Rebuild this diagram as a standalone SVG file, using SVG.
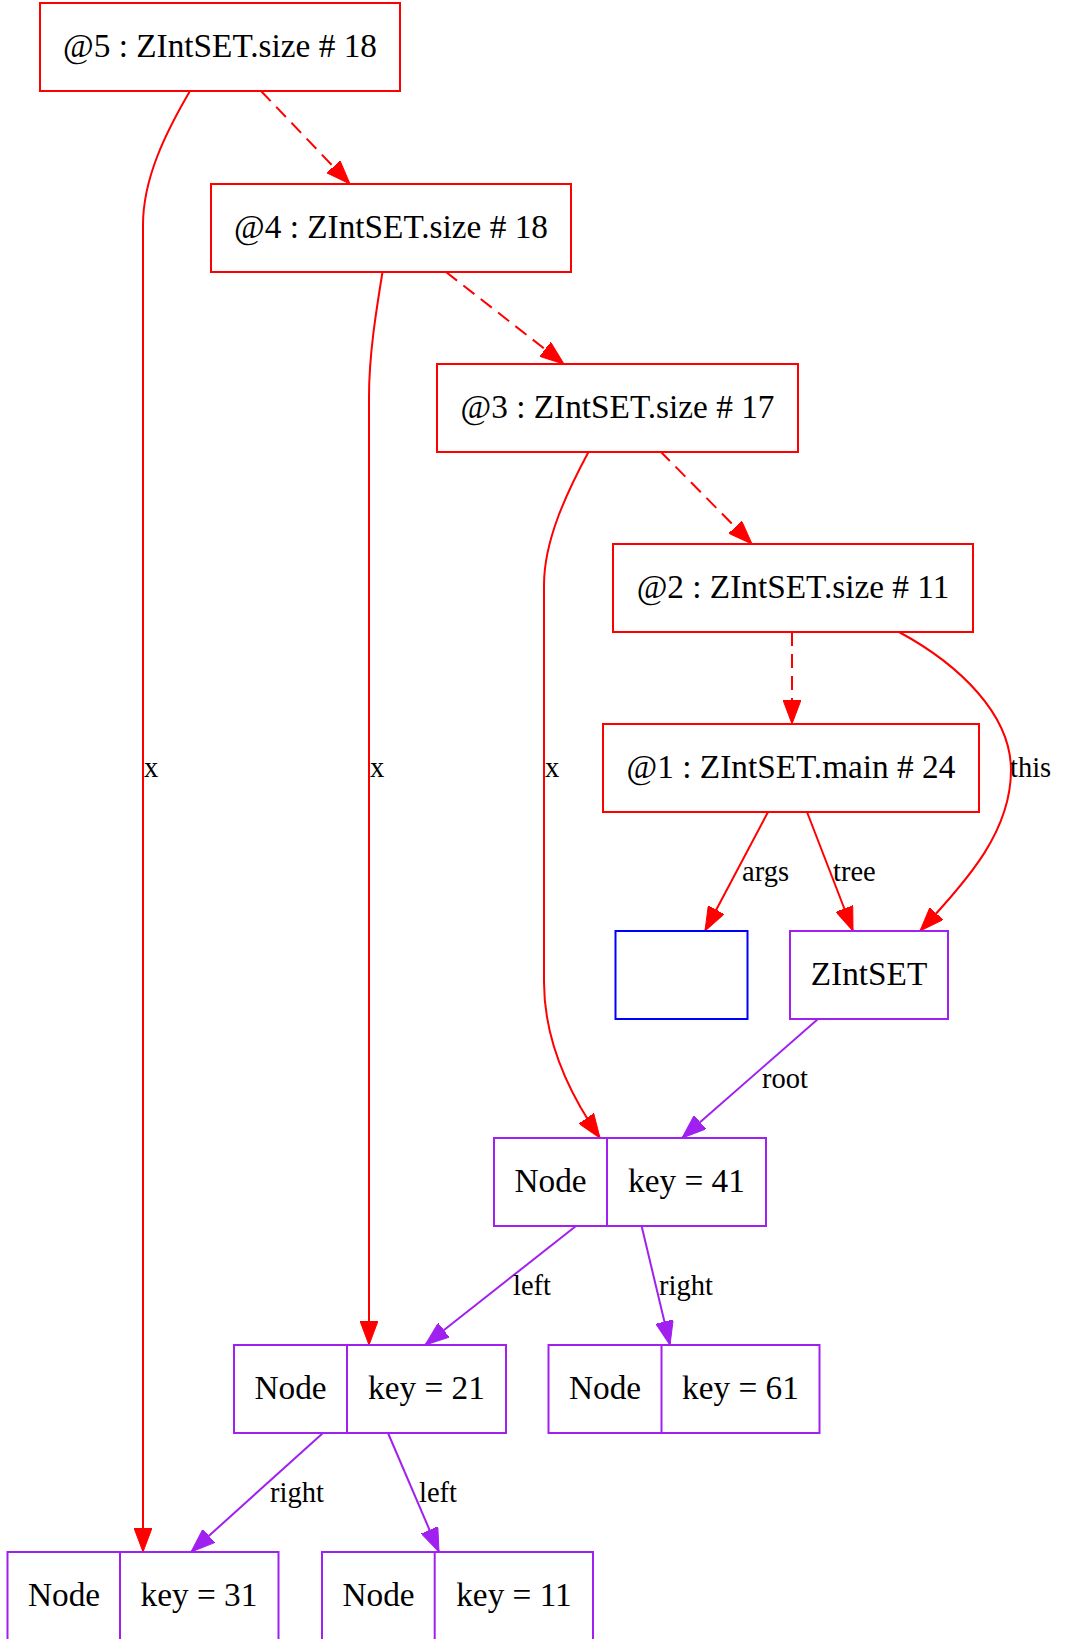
<svg xmlns="http://www.w3.org/2000/svg" width="1068" height="1639" viewBox="0 0 1068 1639">
<style>
.bg{fill:#ffffff}
.fr{fill:#ffffff;stroke:#ff0000;stroke-width:2}
.fp{fill:#ffffff;stroke:#a020f0;stroke-width:2}
.fb{fill:#ffffff;stroke:#0000ff;stroke-width:2}
.lp{stroke:#a020f0;stroke-width:2;fill:none}
.t{font-family:"Liberation Serif","Times New Roman",serif;font-size:33.3px;fill:#000;text-anchor:middle}
.l{font-family:"Liberation Serif","Times New Roman",serif;font-size:28.5px;fill:#000}
.er{stroke:#ff0000;stroke-width:2;fill:none;marker-end:url(#ar)}
.ed{stroke:#ff0000;stroke-width:2;fill:none;stroke-dasharray:14,8;marker-end:url(#ar)}
.ep{stroke:#a020f0;stroke-width:2;fill:none;marker-end:url(#ap)}
</style>
<defs>
<marker id="ar" viewBox="0 0 24 18" refX="24" refY="9" markerWidth="24" markerHeight="18" markerUnits="userSpaceOnUse" orient="auto">
<path d="M0,0 L24,9 L0,18 Z" fill="#ff0000" stroke="#ff0000" stroke-width="1"/>
</marker>
<marker id="ap" viewBox="0 0 24 18" refX="24" refY="9" markerWidth="24" markerHeight="18" markerUnits="userSpaceOnUse" orient="auto">
<path d="M0,0 L24,9 L0,18 Z" fill="#a020f0" stroke="#a020f0" stroke-width="1"/>
</marker>
</defs>
<rect class="bg" x="0" y="0" width="1068" height="1639"/>
<g id="edges">
<path class="er" d="M190,91 C166,132 143,178 143,225 L143,1552"/>
<path class="ed" d="M261,91 L350,184"/>
<path class="er" d="M382.5,272 C376,312 369,355 369,397 L369,1345"/>
<path class="ed" d="M446,272 L564,364"/>
<path class="er" d="M589,451 C567,492 544,540 544,585 L544,982 C544,1040 570,1095 600,1138"/>
<path class="ed" d="M660,451 L752,544"/>
<path class="ed" d="M792,632 L792,724"/>
<path class="er" d="M899,632 C960,665 1011,715 1011,770 C1011,830 970,878 920,931"/>
<path class="er" d="M768,812 L705,931"/>
<path class="er" d="M807,812 L853,931"/>
<path class="ep" d="M818,1019 L682,1138"/>
<path class="ep" d="M576,1226 L425,1345"/>
<path class="ep" d="M641.6,1226 L670,1345"/>
<path class="ep" d="M323,1433 L191,1552"/>
<path class="ep" d="M388,1433 L439,1552"/>
<text class="l" x="144" y="777">x</text>
<text class="l" x="370" y="777">x</text>
<text class="l" x="545" y="777">x</text>
<text class="l" x="1010" y="777">this</text>
<text class="l" x="742" y="881">args</text>
<text class="l" x="833" y="881">tree</text>
<text class="l" x="762" y="1088">root</text>
<text class="l" x="513" y="1295">left</text>
<text class="l" x="659" y="1295">right</text>
<text class="l" x="270" y="1502">right</text>
<text class="l" x="419" y="1502">left</text>
</g>
<g id="n5"><rect class="fr" x="40" y="3" width="360" height="88"/><text class="t" x="220" y="56.5">@5 : ZIntSET.size # 18</text></g>
<g id="n4"><rect class="fr" x="211" y="184" width="360" height="88"/><text class="t" x="391" y="237.5">@4 : ZIntSET.size # 18</text></g>
<g id="n3"><rect class="fr" x="437" y="364" width="361" height="88"/><text class="t" x="617.5" y="417.5">@3 : ZIntSET.size # 17</text></g>
<g id="n2"><rect class="fr" x="613" y="544" width="360" height="88"/><text class="t" x="793" y="597.5">@2 : ZIntSET.size # 11</text></g>
<g id="n1"><rect class="fr" x="603" y="724" width="376" height="88"/><text class="t" x="791" y="777.5">@1 : ZIntSET.main # 24</text></g>
<g id="args"><rect class="fb" x="615.5" y="931" width="132" height="88"/></g>
<g id="zintset"><rect class="fp" x="790" y="931" width="158" height="88"/><text class="t" x="869" y="984.5">ZIntSET</text></g>
<g id="node41"><rect class="fp" x="494" y="1138" width="272" height="88"/><path class="lp" d="M607,1138 L607,1226"/><text class="t" x="550.5" y="1191.5">Node</text><text class="t" x="686.5" y="1191.5">key = 41</text></g>
<g id="node21"><rect class="fp" x="234" y="1345" width="272" height="88"/><path class="lp" d="M347,1345 L347,1433"/><text class="t" x="290.5" y="1398.5">Node</text><text class="t" x="426.5" y="1398.5">key = 21</text></g>
<g id="node61"><rect class="fp" x="548.5" y="1345" width="271" height="88"/><path class="lp" d="M661.5,1345 L661.5,1433"/><text class="t" x="605" y="1398.5">Node</text><text class="t" x="740.5" y="1398.5">key = 61</text></g>
<g id="node31"><rect class="fp" x="7.5" y="1552" width="271" height="88"/><path class="lp" d="M120,1552 L120,1640"/><text class="t" x="64" y="1605.5">Node</text><text class="t" x="199" y="1605.5">key = 31</text></g>
<g id="node11"><rect class="fp" x="322" y="1552" width="271" height="88"/><path class="lp" d="M434.7,1552 L434.7,1640"/><text class="t" x="378.5" y="1605.5">Node</text><text class="t" x="514" y="1605.5">key = 11</text></g>
</svg>
